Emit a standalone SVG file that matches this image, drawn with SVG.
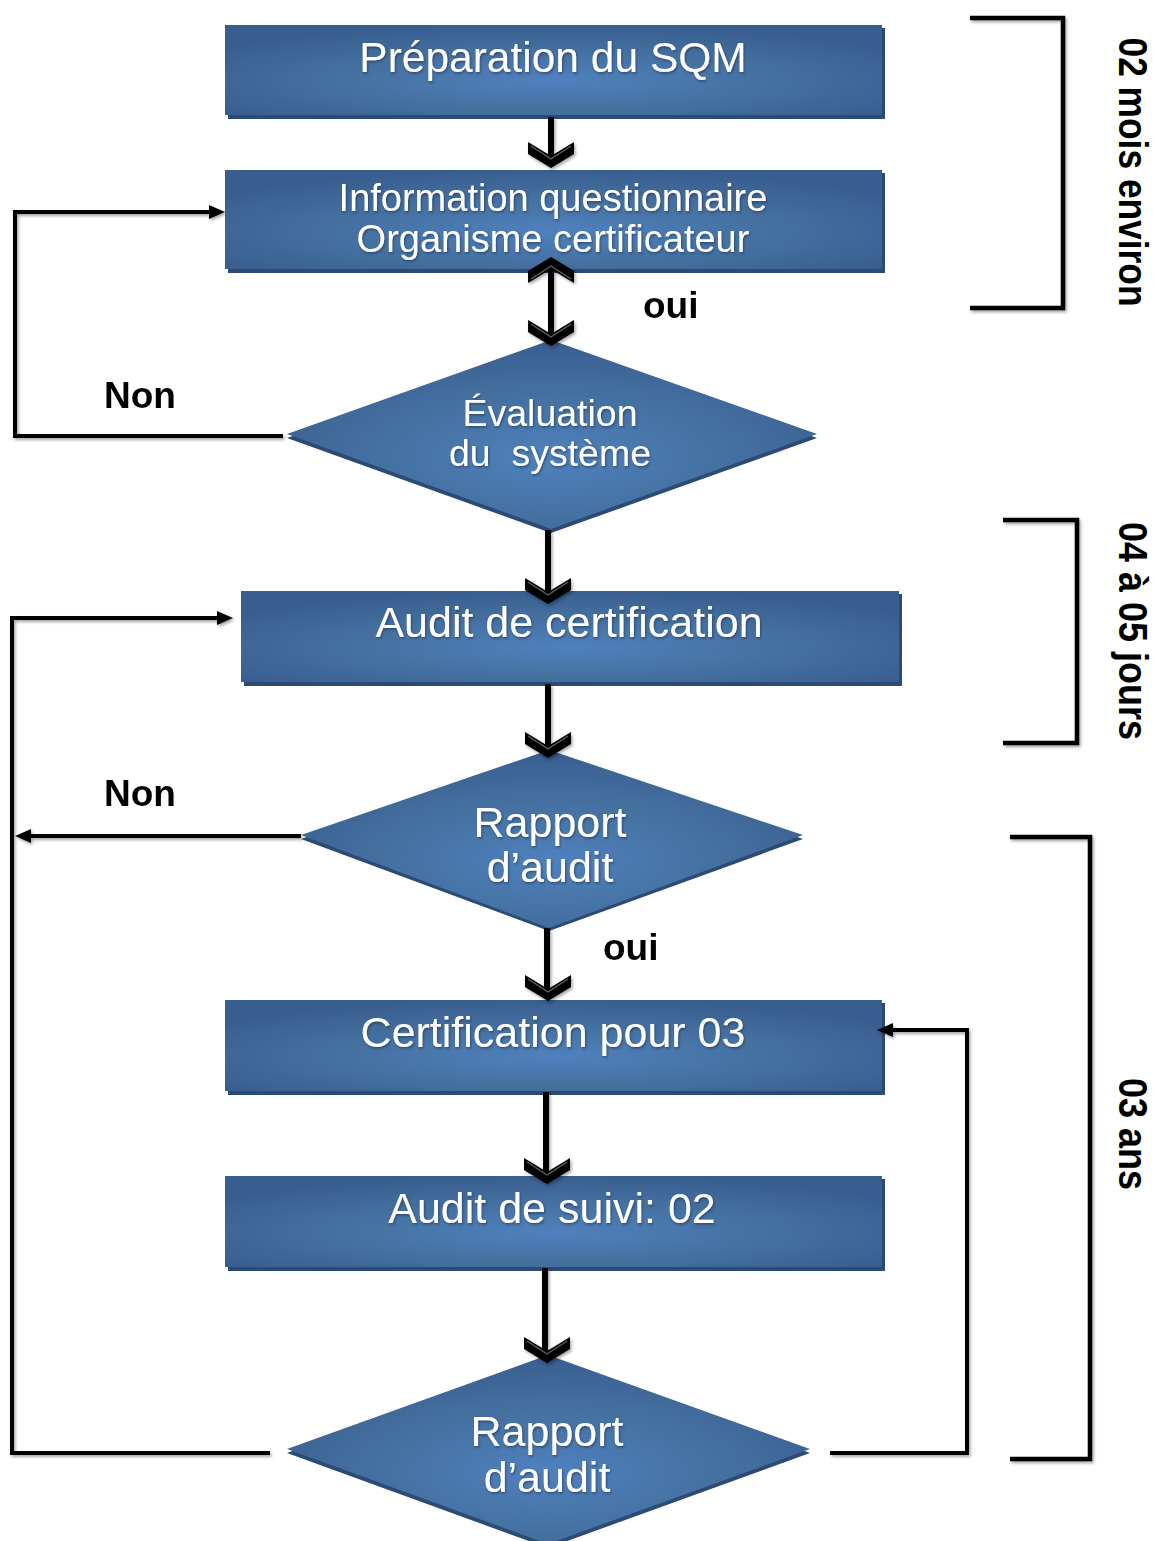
<svg xmlns="http://www.w3.org/2000/svg" width="1153" height="1541" viewBox="0 0 1153 1541">
  <defs>
    <radialGradient id="blueFill" cx="50%" cy="62%" r="62%">
      <stop offset="0%" stop-color="#4f81bd"/>
      <stop offset="55%" stop-color="#44709f"/>
      <stop offset="100%" stop-color="#385e8f"/>
    </radialGradient>
    <filter id="soft" x="-5%" y="-5%" width="110%" height="115%">
      <feDropShadow dx="1.5" dy="2" stdDeviation="1.5" flood-color="#000" flood-opacity="0.35"/>
    </filter>
    <filter id="txtShadow" x="-5%" y="-20%" width="110%" height="140%">
      <feDropShadow dx="1" dy="1.5" stdDeviation="1" flood-color="#1c2f4a" flood-opacity="0.6"/>
    </filter>
    <!-- open chevron arrowhead, tip at the origin, pointing down -->
    <g id="chevron">
      <path d="M-23,-25 L0,-11 L23,-25 L23,-13 L0,1 L-23,-13 Z" fill="#000"/>
      <path d="M-20,-21 L0,-8 L20,-21" fill="none" stroke="#606060" stroke-width="1.4"/>
    </g>
    <marker id="tri" markerUnits="userSpaceOnUse" markerWidth="16" markerHeight="14" viewBox="0 0 16 14" refX="10" refY="7" orient="auto">
      <path d="M0,0 L16,7 L0,14 Z" fill="#000"/>
    </marker>
    <style>
      .box { fill: url(#blueFill); }
      .under { fill: #2b4a74; }
      .lbl { font-family: "Liberation Sans", Arial, sans-serif; fill: #fff; text-anchor: middle; filter: url(#txtShadow); }
      .tag { font-family: "Liberation Sans", Arial, sans-serif; font-weight: bold; fill: #000; font-size: 37px; }
      .side { font-family: "Liberation Sans", Arial, sans-serif; font-weight: bold; fill: #000; font-size: 40px; text-anchor: middle; }
      .wire { fill: none; stroke: #000; stroke-width: 4; stroke-linejoin: miter; }
      .stem { fill: none; stroke: #000; stroke-width: 6; }
      .brace { fill: none; stroke: #000; stroke-width: 4.5; stroke-linejoin: miter; }
    </style>
  </defs>

  <rect width="1153" height="1541" fill="#fff"/>

  <!-- nodes -->
  <g id="nodes">
    <g id="prep">
      <rect class="under" x="228" y="28" width="657" height="91"/>
      <rect class="box" x="225" y="25" width="657" height="90"/>
      <text class="lbl" x="553" y="72" font-size="42.5">Préparation du SQM</text>
    </g>
    <g id="info">
      <rect class="under" x="228" y="173" width="657" height="100"/>
      <rect class="box" x="225" y="170" width="657" height="99"/>
      <text class="lbl" x="553" y="211" font-size="38">Information questionnaire</text>
      <text class="lbl" x="553" y="252" font-size="38">Organisme certificateur</text>
    </g>
    <g id="eval">
      <polygon class="under" points="551,343 817,438 551,533 287,438"/>
      <polygon class="box" points="551,340 817,434 551,529 287,434"/>
      <text class="lbl" x="550" y="426" font-size="37.5">Évaluation</text>
      <text class="lbl" x="550" y="466" font-size="37.5" xml:space="preserve">du  système</text>
    </g>
    <g id="audit">
      <rect class="under" x="244" y="594" width="658" height="92"/>
      <rect class="box" x="241" y="591" width="658" height="91"/>
      <text class="lbl" x="569" y="637" font-size="43">Audit de certification</text>
    </g>
    <g id="rapport1">
      <polygon class="under" points="549,753 803,839 549,931 301,839"/>
      <polygon class="box" points="549,750 803,835 549,928 301,835"/>
      <text class="lbl" x="550" y="837" font-size="43">Rapport</text>
      <text class="lbl" x="550" y="882" font-size="43">d’audit</text>
    </g>
    <g id="certif">
      <rect class="under" x="228" y="1003" width="657" height="92"/>
      <rect class="box" x="225" y="1000" width="657" height="91"/>
      <text class="lbl" x="553" y="1047" font-size="43">Certification pour 03</text>
    </g>
    <g id="suivi">
      <rect class="under" x="228" y="1179" width="657" height="92"/>
      <rect class="box" x="225" y="1176" width="657" height="91"/>
      <text class="lbl" x="552" y="1223" font-size="43">Audit de suivi: 02</text>
    </g>
    <g id="rapport2">
      <polygon class="under" points="548,1358 810,1453 548,1548 287,1453"/>
      <polygon class="box" points="548,1355 810,1449 548,1544 287,1449"/>
      <text class="lbl" x="547" y="1446" font-size="43">Rapport</text>
      <text class="lbl" x="547" y="1492" font-size="43">d’audit</text>
    </g>
  </g>

  <!-- connectors -->
  <g id="connectors" filter="url(#soft)">
    <path class="stem" d="M551,117 V160"/>
    <use href="#chevron" x="551" y="167"/>

    <path class="stem" d="M551,266 V338"/>
    <use href="#chevron" transform="translate(551 258) rotate(180)"/>
    <use href="#chevron" x="551" y="345"/>

    <path class="stem" d="M548,530 V596"/>
    <use href="#chevron" x="548" y="603"/>

    <path class="stem" d="M548,684 V750"/>
    <use href="#chevron" x="548" y="757"/>

    <path class="stem" d="M547,928 V993"/>
    <use href="#chevron" x="548" y="1000"/>

    <path class="stem" d="M546,1092 V1176"/>
    <use href="#chevron" x="547" y="1183"/>

    <path class="stem" d="M545,1268 V1355"/>
    <use href="#chevron" x="547" y="1362"/>

    <!-- "Non" return paths -->
    <path class="wire" d="M283,436 H15 V212 H219" marker-end="url(#tri)"/>
    <path class="wire" d="M270,1453 H12 V618 H227" marker-end="url(#tri)"/>
    <path class="wire" d="M301,836 H21" marker-end="url(#tri)"/>
    <path class="wire" d="M830,1453 H967 V1030 H883" marker-end="url(#tri)"/>

    <!-- duration brackets -->
    <path class="brace" d="M970,18 H1063 V308 H970"/>
    <path class="brace" d="M1003,520 H1077 V743 H1003"/>
    <path class="brace" d="M1010,837 H1090 V1459 H1010"/>
  </g>

  <!-- branch labels -->
  <text class="tag" x="643" y="318">oui</text>
  <text class="tag" x="104" y="408">Non</text>
  <text class="tag" x="104" y="806">Non</text>
  <text class="tag" x="603" y="960">oui</text>

  <!-- durations -->
  <text class="side" transform="translate(1119 172) rotate(90)" textLength="269" lengthAdjust="spacingAndGlyphs">02 mois environ</text>
  <text class="side" transform="translate(1119 631) rotate(90)" textLength="218" lengthAdjust="spacingAndGlyphs">04 à 05 jours</text>
  <text class="side" transform="translate(1119 1134) rotate(90)" textLength="112" lengthAdjust="spacingAndGlyphs">03 ans</text>
</svg>
